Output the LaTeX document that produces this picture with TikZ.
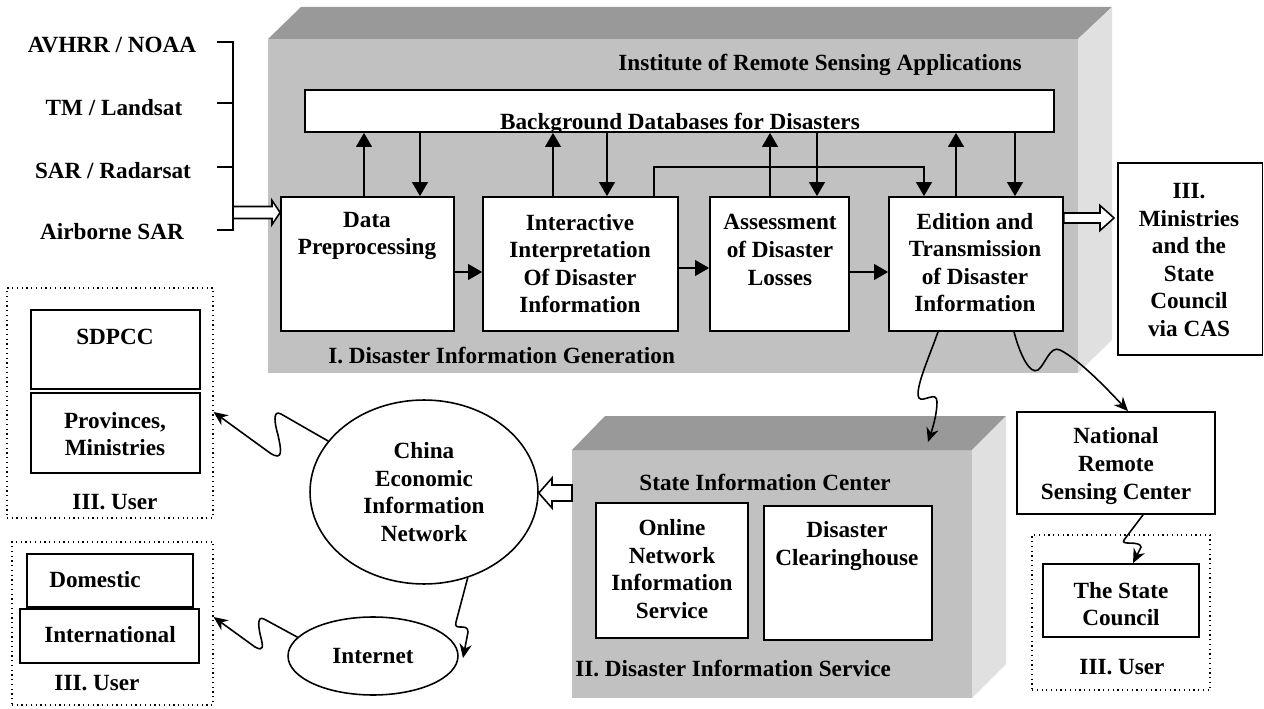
\documentclass[tikz,border=0pt]{standalone}
\usepackage{fontspec}
\setmainfont{Liberation Serif}
\usetikzlibrary{shapes.geometric,arrows.meta,fit,calc}
\definecolor{frontc}{gray}{0.755}
\definecolor{topc}{gray}{0.60}
\definecolor{sidec}{gray}{0.88}
\begin{document}
\begin{tikzpicture}[x=0.02cm,y=-0.02cm,
  font=\fontsize{13.2pt}{15.7pt}\selectfont\bfseries,
  box/.style={draw, line width=1pt, fill=white, inner sep=0pt},
  ubox/.style={draw, dotted, line width=0.7pt, inner sep=0pt},
  txt/.style={align=center, inner sep=0pt},
  arr/.style={line width=1pt, -{Triangle[length=8pt,width=9pt]}},
  wave/.style={line width=0.9pt, -{Stealth[length=8pt,width=7pt]}},
  barrow/.style={draw, fill=white, line width=0.9pt, line join=miter},
  bline/.style={line width=1pt}]
\useasboundingbox (0,0) rectangle (1264,709);

% ---------- 3D block I ----------
\fill[frontc] (268,39) rectangle (1078,373);
\fill[topc] (268,39) -- (301,7) -- (1112,7) -- (1078,39) -- cycle;
\fill[sidec] (1078,39) -- (1112,7) -- (1112,340) -- (1078,373) -- cycle;

\node[txt] (inst) at (820,65) {Institute of Remote Sensing Applications};
\node[txt, anchor=west] (gen) at (328,355) {I. Disaster Information Generation};

\node[box, fit={(305,90) (1054,132)}] (db) {};
\begin{scope}
  \clip (306,91) rectangle (1053,131);
  \node[txt, anchor=base] (dbT) at (680,129.5) {Background Databases for Disasters};
\end{scope}

\node[box, fit={(281,197) (454,331)}] (dp) {};
\node[txt] (dpT) at (367,236) {Data\\Preprocessing};
\node[box, fit={(483,197) (678,331)}] (ii) {};
\node[txt] (iiT) at (580,263.5) {Interactive\\Interpretation\\Of Disaster\\Information};
\node[box, fit={(710,197) (849,331)}] (ad) {};
\node[txt] (adT) at (780,250) {Assessment\\of Disaster\\Losses};
\node[box, fit={(889,197) (1063,331)}] (ed) {};
\node[txt] (edT) at (975,262.5) {Edition and\\Transmission\\of Disaster\\Information};

% flow arrows
\draw[arr] (dp.east |- 0,272) -- (ii.west |- 0,272);
\draw[arr] (ii.east |- 0,268) -- (ad.west |- 0,268);
\draw[arr] (ad.east |- 0,272) -- (ed.west |- 0,272);

% database arrows
\draw[arr] (364,0 |- dp.north) -- (364,0 |- db.south);
\draw[arr] (420,0 |- db.south) -- (420,0 |- dp.north);
\draw[arr] (553,0 |- ii.north) -- (553,0 |- db.south);
\draw[arr] (607,0 |- db.south) -- (607,0 |- ii.north);
\draw[arr] (770,0 |- ad.north) -- (770,0 |- db.south);
\draw[arr] (817,0 |- db.south) -- (817,0 |- ad.north);
\draw[arr] (956,0 |- ed.north) -- (956,0 |- db.south);
\draw[arr] (1015,0 |- db.south) -- (1015,0 |- ed.north);
\draw[arr] (654,0 |- ii.north) -- (654,167) -- (924,167) -- (924,0 |- ed.north);

% ---------- sources ----------
\node[txt] (s1) at (112,45) {AVHRR / NOAA};
\node[txt] (s2) at (114,108) {TM / Landsat};
\node[txt] (s3) at (113,171) {SAR / Radarsat};
\node[txt] (s4) at (112,232) {Airborne SAR};
\draw[bline] (217,42) -- (233,42) -- (233,230) -- (217,230);
\draw[bline] (217,103) -- (233,103);
\draw[bline] (217,167) -- (233,167);
\draw[barrow] (233,206.5) -- (272,206.5) -- (272,200.5) -- (dp.west |- 0,212.5)
  -- (272,224.5) -- (272,218.5) -- (233,218.5) -- cycle;

% ---------- Ministries ----------
\node[box, fit={(1118,163) (1262.5,355)}] (min) {};
\node[txt] (minT) at (1189,260) {III.\\Ministries\\and the\\State\\Council\\via CAS};
\draw[barrow] (ed.east |- 0,213) -- (1100,213) -- (1100,205.5) -- (1114,218)
  -- (1100,230.5) -- (1100,223) -- (ed.east |- 0,223) -- cycle;

% ---------- 3D block II ----------
\fill[frontc] (572,450) rectangle (972,698);
\fill[topc] (572,450) -- (605,416) -- (1006,416) -- (972,450) -- cycle;
\fill[sidec] (972,450) -- (1006,416) -- (1006,664) -- (972,698) -- cycle;
\coordinate (sicTop) at (928,442);
\node[txt] (sic) at (765,482) {State Information Center};
\node[box, fit={(596,503) (748,638)}] (onl) {};
\node[txt] (onlT) at (672,569) {Online\\Network\\Information\\Service};
\node[box, fit={(764,506) (932,640)}] (clr) {};
\node[txt] (clrT) at (847,546) {Disaster\\Clearinghouse};
\node[txt, anchor=west] (svc) at (575,668) {II. Disaster Information Service};

% ---------- networks ----------
\node[draw, ellipse, line width=0.9pt, minimum width=4.56cm, minimum height=3.68cm, txt]
  (cein) at (424,492) {China\\Economic\\Information\\Network};
\node[draw, ellipse, line width=0.9pt, minimum width=3.4cm, minimum height=1.56cm, txt]
  (inet) at (373,656) {Internet};
\draw[barrow] (572,485) -- (552,485) -- (552,478) -- (cein.east |- 0,493)
  -- (552,508) -- (552,501) -- (572,501) -- cycle;

% ---------- users left ----------
\node[ubox, fit={(7,288) (213,518)}] (u1) {};
\node[box, fit={(31,310) (200,389)}] (sdp) {};
\node[txt] (sdpT) at (115,337) {SDPCC};
\node[box, fit={(31,393) (200,473)}] (prov) {};
\node[txt] (provT) at (115,434) {Provinces,\\Ministries};
\node[txt] (u1T) at (115,502) {III. User};

\node[ubox, fit={(12,542) (213,705)}] (u2) {};
\node[box, fit={(27,554) (193,607)}] (dom) {};
\node[txt] (domT) at (95,580) {Domestic};
\node[box, fit={(20,609) (199,663)}] (intl) {};
\node[txt] (intlT) at (110,635) {International};
\node[txt] (u2T) at (97,683) {III. User};

% ---------- users right ----------
\node[box, fit={(1017,412) (1215,514)}] (nrsc) {};
\node[txt] (nrscT) at (1116,466) {National\\Remote\\Sensing Center};
\node[ubox, fit={(1032,535) (1210,690)}] (u3) {};
\node[box, fit={(1043,564) (1199,637)}] (sc) {};
\node[txt] (scT) at (1121,604) {The State\\Council};
\node[txt] (u3T) at (1122,667) {III. User};

% ---------- wavy connectors ----------
\draw[wave] (cein.152) -- (281,414) .. controls (272,409) and (275,425) .. (278,435)
  .. controls (281,449) and (284,462) .. (270,453) -- (u1.east |- 0,412);
\draw[wave] (inet.166) -- (264,619) .. controls (256,615) and (259,630) .. (261,638)
  .. controls (263,646) and (264,652) .. (255,647) -- (u2.east |- 0,617);
\draw[wave] (cein.-63) -- (456,622) .. controls (453,632) and (468,622) .. (468,632)
  -- (463,658);
\draw[wave] (938,0 |- ed.south) .. controls (930,355) and (914,390) .. (919,398)
  .. controls (923,403) and (937,390) .. (937,402)
  .. controls (937,415) and (932,430) .. (sicTop);
\draw[wave] (1014,0 |- ed.south) .. controls (1020,355) and (1030,375) .. (1038,370)
  .. controls (1045,365) and (1050,345) .. (1060,350)
  .. controls (1080,360) and (1110,392) .. (1128,0 |- nrsc.north);
\draw[wave] (1143,0 |- nrsc.south) -- (1124,540) .. controls (1120,546) and (1140,540) .. (1141,547)
  -- (1133,0 |- sc.north);
\end{tikzpicture}
\end{document}
